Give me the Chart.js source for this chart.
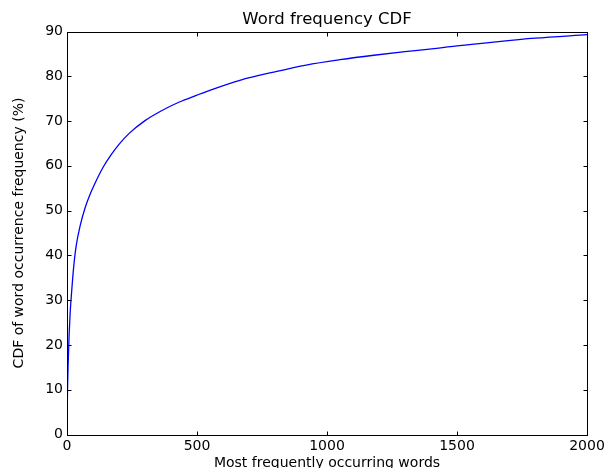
<!DOCTYPE html>
<html>
<head>
<meta charset="utf-8">
<script src="https://cdn.jsdelivr.net/npm/chart.js@4.4.1/dist/chart.umd.min.js"></script>
<style>
  html, body { margin: 0; padding: 0; background: #fff; }
  #wrap { width: 615px; height: 468px; }
</style>
</head>
<body>
<div id="wrap"><canvas id="c" width="615" height="468"></canvas></div>
<script>
// Number of most frequent words (rank) and cumulative share (%)
const wordRanks = [1, 2, 4, 8, 12, 18, 25, 35, 50, 70, 90, 110, 140, 170, 200, 240, 300, 360, 430, 500, 560, 665, 800, 920, 1050, 1180, 1300, 1430, 1500, 1650, 1800, 2000];
const cdfValues = [6, 10, 15, 22, 27, 32, 37, 42, 46.5, 50.7, 53.8, 56.4, 59.8, 62.5, 64.8, 67.3, 70.1, 72.2, 74.2, 75.8, 77.1, 79.1, 81.0, 82.5, 83.7, 84.7, 85.5, 86.3, 86.8, 87.7, 88.5, 89.3];
const xTickValues = [0, 500, 1000, 1500, 2000];
const yTickValues = [0, 10, 20, 30, 40, 50, 60, 70, 80, 90];

const FONT = "'DejaVu Sans', sans-serif";

const framePlugin = {
  id: 'frame',
  afterDatasetsDraw(chart) {
    const { ctx, chartArea: a, scales } = chart;
    const L = Math.round(a.left) + 0.5, R = Math.round(a.right) + 0.5;
    const T = Math.round(a.top) + 0.5, B = Math.round(a.bottom) + 0.5;
    ctx.save();
    ctx.strokeStyle = '#000';
    ctx.lineWidth = 1;
    ctx.strokeRect(L, T, R - L, B - T);
    const tl = 4;
    ctx.beginPath();
    scales.x.ticks.forEach(t => {
      const px = Math.round(scales.x.getPixelForValue(t.value)) + 0.5;
      ctx.moveTo(px, B); ctx.lineTo(px, B - tl);
      ctx.moveTo(px, T); ctx.lineTo(px, T + tl);
    });
    scales.y.ticks.forEach(t => {
      const py = Math.round(scales.y.getPixelForValue(t.value)) + 0.5;
      ctx.moveTo(L, py); ctx.lineTo(L + tl, py);
      ctx.moveTo(R, py); ctx.lineTo(R - tl, py);
    });
    ctx.stroke();
    ctx.restore();
  }
};

new Chart(document.getElementById('c'), {
  type: 'line',
  data: {
    datasets: [{
      data: wordRanks.map((r, i) => ({ x: r, y: cdfValues[i] })),
      borderColor: '#0000ff',
      borderWidth: 1.3,
      pointRadius: 0,
      fill: false,
      cubicInterpolationMode: 'monotone'
    }]
  },
  options: {
    responsive: false,
    animation: false,
    devicePixelRatio: 1,
    layout: { padding: { left: 0, right: 28, top: 0, bottom: 0 } },
    plugins: {
      legend: { display: false },
      tooltip: { enabled: false },
      title: {
        display: true,
        text: 'Word frequency CDF',
        color: '#000',
        fullSize: false,
        font: { family: FONT, size: 16.5, weight: 'normal', lineHeight: 1.2 },
        padding: { top: 10, bottom: 1.7 }
      }
    },
    scales: {
      x: {
        type: 'linear',
        min: 0, max: 2000,
        afterBuildTicks(s) { s.ticks = xTickValues.map(v => ({ value: v })); },
        afterFit(s) { s.height = 33.5; },
        grid: { display: false, drawTicks: false },
        border: { display: false },
        ticks: {
          color: '#000', padding: 3, autoSkip: false, maxRotation: 0,
          font: { family: FONT, size: 14 },
          callback: v => String(v)
        },
        title: {
          display: true,
          text: 'Most frequently occurring words',
          color: '#000',
          font: { family: FONT, size: 14, lineHeight: 1.2 },
          padding: { top: 0, bottom: -3.5 }
        }
      },
      y: {
        type: 'linear',
        min: 0, max: 90,
        afterBuildTicks(s) { s.ticks = yTickValues.map(v => ({ value: v })); },
        afterFit(s) { s.width = 67; },
        grid: { display: false, drawTicks: false },
        border: { display: false },
        ticks: {
          color: '#000', padding: 4, autoSkip: false,
          font: { family: FONT, size: 14 },
          callback: v => String(v)
        },
        title: {
          display: true,
          text: 'CDF of word occurrence frequency (%)',
          color: '#000',
          font: { family: FONT, size: 14, lineHeight: 1.2 },
          padding: { top: 11, bottom: 0 }
        }
      }
    }
  },
  plugins: [framePlugin]
});
</script>
</body>
</html>
